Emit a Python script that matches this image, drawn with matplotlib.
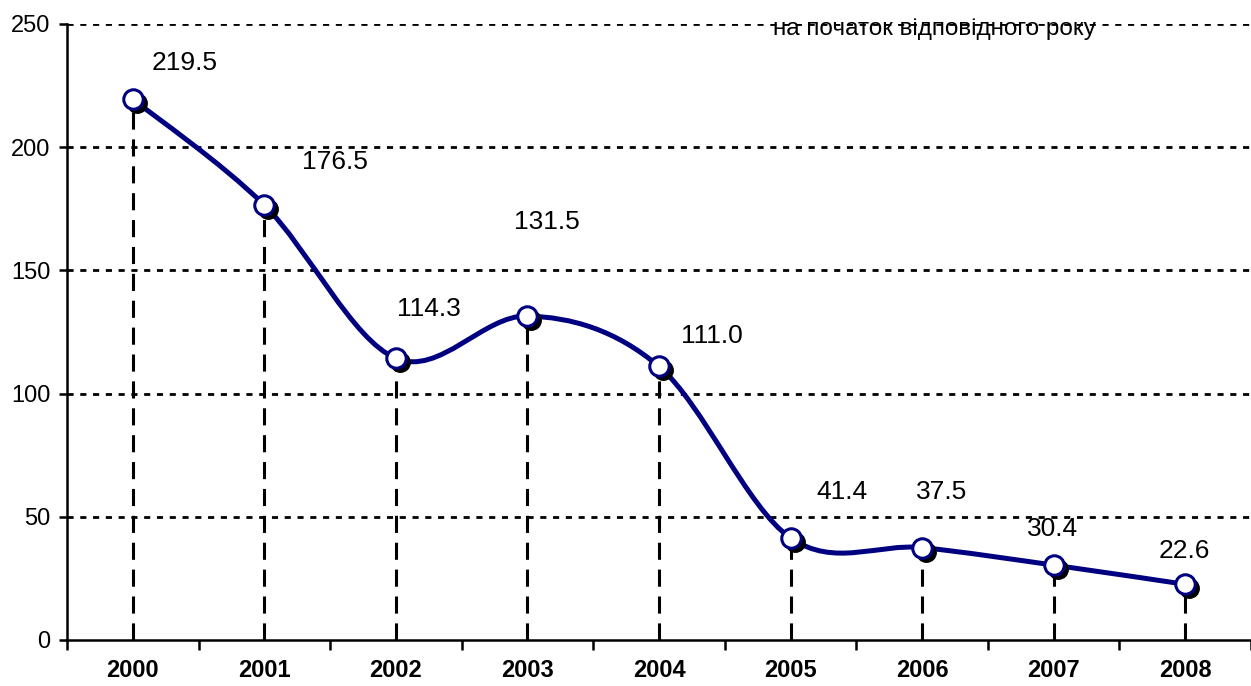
import numpy as np
import matplotlib
matplotlib.use('Agg')
import matplotlib.pyplot as plt
from matplotlib.path import Path
from matplotlib.patches import PathPatch
import matplotlib.transforms as mtransforms

plt.rcParams['font.family'] = ['Liberation Sans', 'DejaVu Sans']

years = ['2000', '2001', '2002', '2003', '2004', '2005', '2006', '2007', '2008']
values = [219.5, 176.5, 114.3, 131.5, 111.0, 41.4, 37.5, 30.4, 22.6]
# where each value label sits relative to its point (pixels)
label_offsets = [(52, 36), (71, 43), (33, 49), (19, 94), (53, 30),
                 (51, 46), (19, 56), (-1, 36), (-1, 33)]
note = 'на початок відповідного року'

navy = '#000080'

fig = plt.figure(figsize=(12.51, 6.86), dpi=100)
ax = fig.add_axes([67 / 1251, 46 / 686, 1184 / 1251, 616 / 686])

x = np.arange(len(values))
y = np.array(values)

ax.set_xlim(-0.5, 1184 / 132.1 - 0.5)
ax.set_ylim(0, 250)

# horizontal dotted grid
for g in [50, 100, 150, 200, 250]:
    ax.axhline(g, color='black', lw=2.0, ls=(0, (2.2, 2.4)), zorder=1)

# dashed drop lines to the axis
ax.vlines(x, 0, y, color='black', lw=2.2, linestyles=(0, (5.6, 3.2)), zorder=2)

# smoothed line (cubic bezier through the points)
pts = np.column_stack([x, y]).astype(float)
verts = [tuple(pts[0])]
codes = [Path.MOVETO]
n = len(pts)
for i in range(n - 1):
    p0 = pts[i - 1] if i > 0 else pts[i]
    p1 = pts[i]
    p2 = pts[i + 1]
    p3 = pts[i + 2] if i + 2 < n else pts[i + 1]
    c1 = p1 + (p2 - p0) / 6
    c2 = p2 - (p3 - p1) / 6
    verts += [tuple(c1), tuple(c2), tuple(p2)]
    codes += [Path.CURVE4] * 3
ax.add_patch(PathPatch(Path(verts, codes), fill=False, edgecolor=navy,
                       lw=3.6, capstyle='round', zorder=3))

# marker shadows, then markers
shadow = mtransforms.offset_copy(ax.transData, fig=fig, x=4, y=-4, units='dots')
ax.plot(x, y, 'o', ms=14, mfc='black', mec='black', transform=shadow, zorder=4)
ax.plot(x, y, 'o', ms=14, mfc='white', mec=navy, mew=2.2, zorder=5)

for xi, v, (dx, dy) in zip(x, values, label_offsets):
    ax.annotate(f'{v:.1f}', (xi, v), xytext=(dx, dy), textcoords='offset pixels',
                ha='center', va='center', fontsize=19, zorder=6)

ax.text(6.09, 248, note, ha='center', va='center', fontsize=17.5, zorder=6)

for s in ['top', 'right']:
    ax.spines[s].set_visible(False)
for s in ['left', 'bottom']:
    ax.spines[s].set_linewidth(1.8)

ax.set_yticks([0, 50, 100, 150, 200, 250])
ax.tick_params(axis='y', direction='out', length=6, width=1.8, pad=6, labelsize=17)

ax.set_xticks(np.arange(-0.5, 9, 1.0))
ax.set_xticklabels([])
ax.tick_params(axis='x', which='major', direction='out', length=7, width=1.8)
ax.set_xticks(x, minor=True)
ax.set_xticklabels(years, minor=True, fontweight='bold', fontsize=17)
ax.tick_params(axis='x', which='minor', length=0, pad=14)

fig.savefig('out.png', dpi=100)
